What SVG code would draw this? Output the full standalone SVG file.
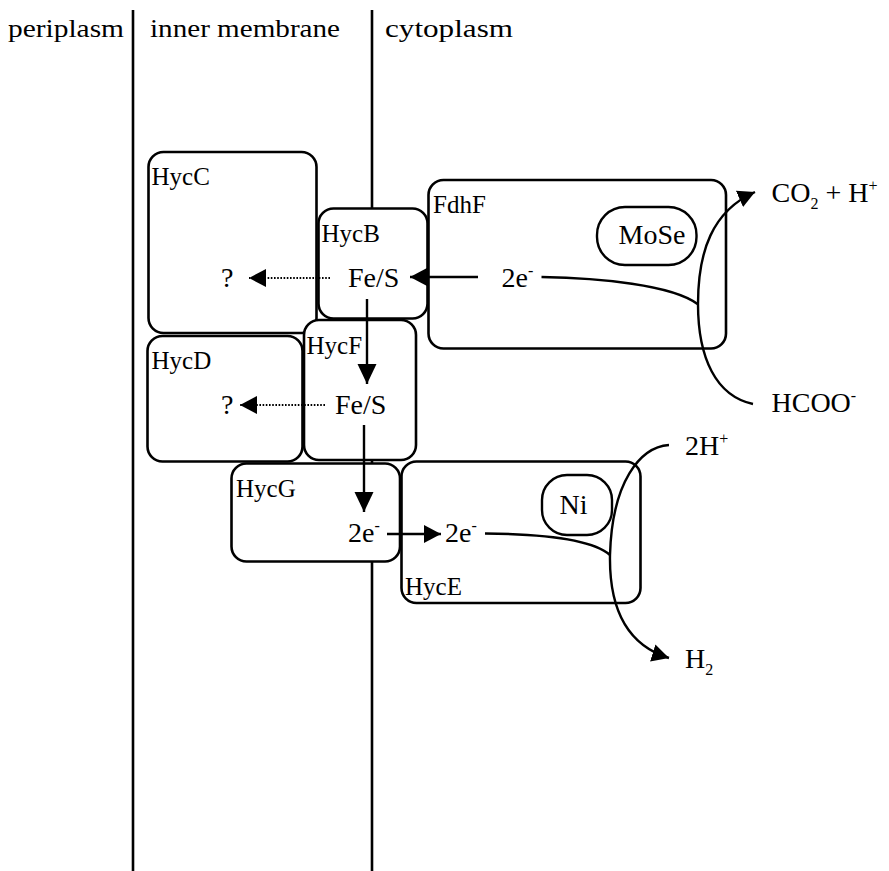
<svg xmlns="http://www.w3.org/2000/svg" width="889" height="871" viewBox="0 0 889 871">
<style>
text{font-family:"Liberation Serif","Times New Roman",serif;fill:#000}
.top{font-size:26px}
.lbl{font-size:25px}
.in{font-size:28px}
.sup{font-size:16px}
.box{fill:#fff;stroke:#000;stroke-width:2.6}
.bub{fill:#fff;stroke:#000;stroke-width:2.4}
.mem{stroke:#000;stroke-width:2.6;fill:none}
.ln{stroke:#000;stroke-width:2.4;fill:none}
.dot{stroke:#000;stroke-width:1.8;fill:none;stroke-dasharray:1.6 1.6}
</style>
<defs>
<marker id="ah" markerUnits="userSpaceOnUse" markerWidth="20" markerHeight="20" refX="17" refY="9" orient="auto">
<path d="M0,0 L17,9 L0,18 z" fill="#000"/>
</marker>
<marker id="ahv" markerUnits="userSpaceOnUse" markerWidth="22" markerHeight="22" refX="20" refY="9.5" orient="auto">
<path d="M0,0 L20,9.5 L0,19 z" fill="#000"/>
</marker>
</defs>
<rect width="889" height="871" fill="#fff"/>
<g id="membrane">
<line class="mem" x1="133" y1="10" x2="133" y2="871"/>
<line class="mem" x1="372" y1="10" x2="372" y2="871"/>
<text class="top" x="8" y="37" textLength="116" lengthAdjust="spacingAndGlyphs">periplasm</text>
<text class="top" x="150" y="37" textLength="190" lengthAdjust="spacingAndGlyphs">inner membrane</text>
<text class="top" x="385" y="37" textLength="128" lengthAdjust="spacingAndGlyphs">cytoplasm</text>
</g>
<g id="HycC">
<rect class="box" x="148.5" y="152" width="168" height="181" rx="15"/>
<text class="lbl" x="151.5" y="185">HycC</text>
<text class="in" x="221" y="287">?</text>
</g>
<g id="HycB">
<rect class="box" x="318.5" y="208.5" width="109" height="110" rx="15"/>
<text class="lbl" x="321.5" y="241.5">HycB</text>
<text class="in" x="348" y="287">Fe/S</text>
</g>
<g id="FdhF">
<rect class="box" x="428.5" y="180" width="297.5" height="168.5" rx="15"/>
<text class="lbl" x="433" y="213">FdhF</text>
<text class="in" x="501.5" y="287">2e<tspan class="sup" dy="-11">-</tspan></text>
</g>
<g id="MoSe">
<rect class="bub" x="597" y="207" width="99.5" height="58" rx="28"/>
<text class="in" x="652" y="244" text-anchor="middle">MoSe</text>
</g>
<g id="HycD">
<rect class="box" x="147.5" y="336" width="155" height="125.5" rx="15"/>
<text class="lbl" x="151.5" y="368.5">HycD</text>
<text class="in" x="221" y="413.5">?</text>
</g>
<g id="HycF">
<rect class="box" x="304" y="320" width="112" height="140" rx="15"/>
<text class="lbl" x="306.5" y="353.5">HycF</text>
<text class="in" x="335" y="413.5">Fe/S</text>
</g>
<g id="HycG">
<rect class="box" x="231.5" y="463.5" width="168.5" height="98" rx="15"/>
<text class="lbl" x="236" y="497">HycG</text>
<text class="in" x="348" y="542">2e<tspan class="sup" dy="-11">-</tspan></text>
</g>
<g id="HycE">
<rect class="box" x="401.5" y="461.5" width="239" height="141.5" rx="15"/>
<text class="lbl" x="405" y="595">HycE</text>
<text class="in" x="445" y="542">2e<tspan class="sup" dy="-11">-</tspan></text>
</g>
<g id="Ni">
<rect class="bub" x="542" y="475" width="70" height="60" rx="25"/>
<text class="in" x="573.5" y="513.5" text-anchor="middle">Ni</text>
</g>
<g id="CO2">
<text class="in" x="771.5" y="202">CO<tspan class="sup" font-size="18" dy="7">2</tspan><tspan dy="-7"> + H</tspan><tspan class="sup" dy="-11">+</tspan></text>
</g>
<g id="HCOO">
<text class="in" x="771.5" y="412">HCOO<tspan class="sup" dy="-11">-</tspan></text>
</g>
<g id="H2plus">
<text class="in" x="685" y="455">2H<tspan class="sup" dy="-11">+</tspan></text>
</g>
<g id="H2">
<text class="in" x="685" y="668">H<tspan class="sup" font-size="18" dy="7">2</tspan></text>
</g>
<g id="connectors">
<path class="dot" d="M330,278 L249,278" marker-end="url(#ah)"/>
<path class="dot" d="M325,405 L240,405" marker-end="url(#ah)"/>
<path class="ln" d="M478,277 L410,277" marker-end="url(#ah)"/>
<path class="ln" d="M367,299 L367,384" marker-end="url(#ahv)"/>
<path class="ln" d="M364,425 L364,512" marker-end="url(#ahv)"/>
<path class="ln" d="M387,534 L441,534" marker-end="url(#ah)"/>
<path class="ln" d="M541.5,277 C600,278 672,285 697.5,304"/>
<path class="ln" d="M753,404 C716,396 698,358 698,304 C698,252 712,211 755,192" marker-end="url(#ah)"/>
<path class="ln" d="M485,533.5 C540,534 592,539 610,555"/>
<path class="ln" d="M669,445 C640,447 612,482 610,555 C609,612 630,646 669,658" marker-end="url(#ah)"/>
</g>
</svg>
